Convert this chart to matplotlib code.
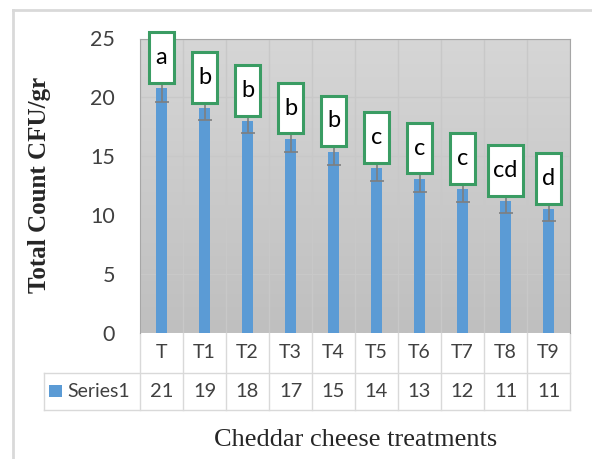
import numpy as np
import matplotlib
matplotlib.use('Agg')
import matplotlib.pyplot as plt
import matplotlib.patches as patches
from matplotlib.lines import Line2D
from matplotlib.transforms import blended_transform_factory

categories = ['T', 'T1', 'T2', 'T3', 'T4', 'T5', 'T6', 'T7', 'T8', 'T9']
counts = [20.8, 19.1, 18.0, 16.5, 15.4, 14.0, 13.1, 12.2, 11.2, 10.5]
errors = [1.2, 1.0, 1.05, 1.1, 1.1, 1.1, 1.1, 1.05, 1.05, 1.0]
table_values = [21, 19, 18, 17, 15, 14, 13, 12, 11, 11]
letters = ['a', 'b', 'b', 'b', 'b', 'c', 'c', 'c', 'cd', 'd']

W, H = 592, 459
fig = plt.figure(figsize=(W / 100, H / 100), dpi=100)
ax = fig.add_axes([140 / W, 126 / H, 430 / W, 294.5 / H])

x = np.arange(len(categories))
n = len(categories)

# gradient background of the plot area
grad = np.linspace(0, 1, 256).reshape(-1, 1)
cmap = matplotlib.colors.LinearSegmentedColormap.from_list('bg', ['#bfbfbf', '#d6d6d6'])
ax.imshow(grad, extent=[-0.5, n - 0.5, 0, 25], origin='lower', aspect='auto',
          cmap=cmap, zorder=0)

ax.bar(x, counts, width=0.27, color='#5b9bd5', zorder=3)
ax.errorbar(x, counts, yerr=errors, fmt='none', ecolor='#7f7f7f', elinewidth=1.2,
            capsize=5, capthick=1.2, zorder=4)

# letter boxes
for i, (v, lab) in enumerate(zip(counts, letters)):
    bw = 0.8 if len(lab) > 1 else 0.56
    bottom = v + 0.45
    rect = patches.Rectangle((i - bw / 2, bottom), bw, 4.3, facecolor='white',
                             edgecolor='#3a9c63', linewidth=2.2, zorder=6, clip_on=False)
    ax.add_patch(rect)
    ax.text(i, bottom + 2.15, lab, ha='center', va='center', fontsize=17,
            family='Lato', color='black', zorder=7, clip_on=False)

ax.set_xlim(-0.5, n - 0.5)
ax.set_ylim(0, 25)
ax.set_yticks([0, 5, 10, 15, 20, 25])
ax.set_yticklabels(['0', '5', '10', '15', '20', '25'], family='Lato', fontsize=15.5,
                   color='#404040')
ax.tick_params(axis='y', length=0, pad=18)
ax.set_xticks([])
ax.set_xticks(np.arange(n + 1) - 0.5, minor=True)
ax.tick_params(axis='x', which='minor', length=0)
ax.grid(True, axis='y', color='#c8c8c8', linewidth=1, zorder=1)
ax.grid(True, which='minor', axis='x', color='#c8c8c8', linewidth=1, zorder=1)
for s in ax.spines.values():
    s.set_color('#a6a6a6')
ax.spines['bottom'].set_visible(False)
ax.set_axisbelow(True)

# data table below the plot
tr = blended_transform_factory(ax.transData, ax.transAxes)
row1 = -39.7 / 294.5
row2 = -77 / 294.5
tcol = '#d9d9d9'
for b in np.arange(n + 1) - 0.5:
    ax.add_artist(Line2D([b, b], [0, row2], transform=tr, color=tcol, lw=1, clip_on=False))
for yy in [row1, row2]:
    ax.add_artist(Line2D([(44 - 140) / 430, 1], [yy, yy], transform=ax.transAxes,
                         color=tcol, lw=1, clip_on=False))
ax.add_artist(Line2D([(44 - 140) / 430] * 2, [row1, row2], transform=ax.transAxes,
                     color=tcol, lw=1, clip_on=False))
for i in range(n):
    ax.text(i, row1 / 2, categories[i], transform=tr, ha='center', va='center',
            fontsize=14, family='Lato', color='#404040')
    ax.text(i, (row1 + row2) / 2, str(table_values[i]), transform=tr, ha='center',
            va='center', fontsize=14.5, family='Lato', color='#404040')
ax.add_artist(patches.Rectangle(((49 - 140) / 430, (row1 + row2) / 2 - 6 / 294.5),
                                13 / 430, 12 / 294.5, transform=ax.transAxes,
                                facecolor='#5b9bd5', edgecolor='none', clip_on=False))
ax.text((67 - 140) / 430, (row1 + row2) / 2, 'Series1', transform=ax.transAxes,
        ha='left', va='center', fontsize=14, family='Lato', color='#404040')

# axis titles
fig.text(40 / W, 1 - 185 / H, 'Total Count CFU/gr', rotation=90, ha='center', va='center',
         family='Liberation Serif', fontweight='bold', fontsize=18, color='#262626')
fig.text(356 / W, 1 - 440 / H, 'Cheddar cheese treatments', ha='center', va='center',
         family='Liberation Serif', fontsize=19, color='#262626')

# outer chart border
fig.add_artist(Line2D([13 / W, 13 / W], [0, 1 - 10 / H], color='#d9d9d9', lw=2))
fig.add_artist(Line2D([13 / W, 1], [1 - 10 / H, 1 - 10 / H], color='#d9d9d9', lw=2))

fig.savefig('out.png', dpi=100)
